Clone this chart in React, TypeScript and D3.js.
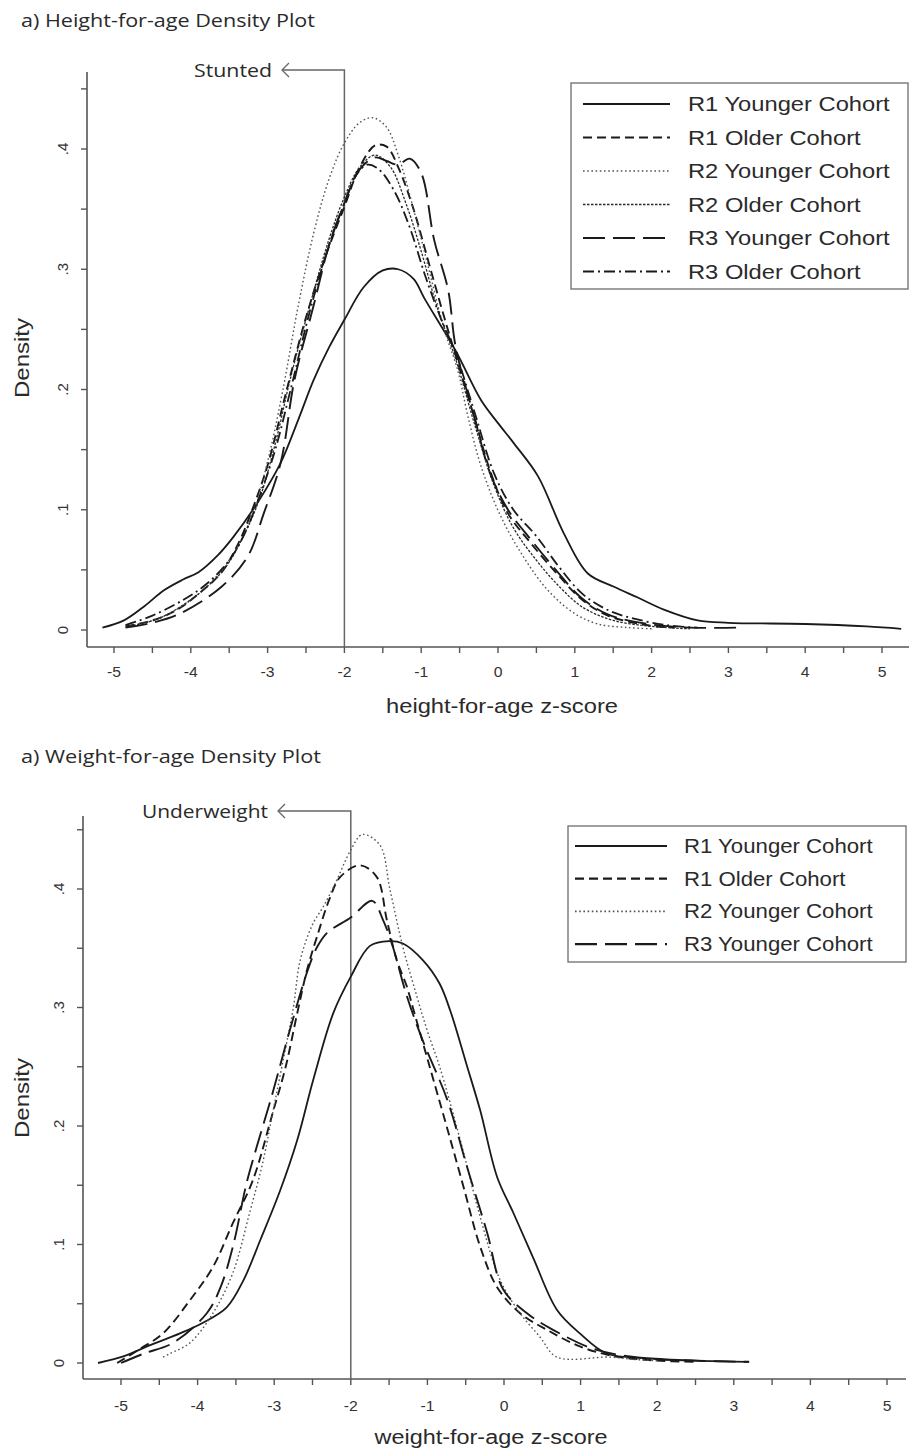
import React from "react";
import * as d3 from "d3";

type Pt = [number, number];

// z-score, density pairs
const hazR1Younger: Pt[] = [[-5.15,0.002],[-4.87,0.008],[-4.6,0.02],[-4.35,0.033],[-4.1,0.042],[-3.9,0.048],[-3.65,0.062],[-3.45,0.077],[-3.13,0.106],[-2.83,0.139],[-2.6,0.175],[-2.4,0.208],[-2.2,0.235],[-2.0,0.258],[-1.75,0.285],[-1.5,0.299],[-1.3,0.3],[-1.1,0.292],[-0.96,0.276],[-0.55,0.232],[-0.22,0.191],[0.0,0.172],[0.21,0.155],[0.52,0.128],[0.86,0.08],[1.17,0.047],[1.51,0.036],[1.82,0.027],[2.16,0.017],[2.6,0.008],[3.0,0.006],[4.0,0.005],[4.8,0.003],[5.25,0.001]];
const hazR1Older: Pt[] = [[-4.85,0.003],[-4.5,0.008],[-4.2,0.016],[-3.9,0.03],[-3.6,0.048],[-3.38,0.072],[-3.2,0.1],[-3.0,0.137],[-2.75,0.2],[-2.5,0.26],[-2.25,0.31],[-2.0,0.352],[-1.8,0.385],[-1.6,0.403],[-1.45,0.402],[-1.3,0.385],[-1.1,0.35],[-0.9,0.305],[-0.7,0.26],[-0.55,0.228],[-0.3,0.175],[-0.09,0.13],[0.13,0.097],[0.43,0.072],[0.78,0.046],[1.08,0.026],[1.43,0.012],[1.95,0.004],[2.3,0.002]];
const hazR2Younger: Pt[] = [[-4.85,0.003],[-4.4,0.01],[-3.9,0.03],[-3.5,0.058],[-3.2,0.095],[-3.0,0.14],[-2.8,0.2],[-2.6,0.27],[-2.4,0.33],[-2.2,0.375],[-2.0,0.405],[-1.8,0.422],[-1.63,0.426],[-1.45,0.418],[-1.3,0.395],[-1.1,0.35],[-0.9,0.3],[-0.7,0.25],[-0.52,0.215],[-0.4,0.18],[-0.22,0.136],[0.04,0.094],[0.34,0.06],[0.65,0.033],[0.99,0.014],[1.3,0.005],[1.7,0.002],[2.0,0.001]];
const hazR2Older: Pt[] = [[-4.8,0.003],[-4.4,0.01],[-3.9,0.03],[-3.55,0.052],[-3.3,0.08],[-3.1,0.11],[-2.9,0.155],[-2.7,0.21],[-2.45,0.27],[-2.2,0.325],[-2.0,0.36],[-1.8,0.385],[-1.6,0.395],[-1.4,0.385],[-1.2,0.355],[-1.0,0.315],[-0.8,0.27],[-0.55,0.225],[-0.3,0.17],[-0.05,0.12],[0.2,0.085],[0.5,0.058],[0.8,0.036],[1.1,0.019],[1.5,0.008],[2.0,0.003],[2.5,0.001]];
const hazR3Younger: Pt[] = [[-4.85,0.002],[-4.5,0.006],[-4.13,0.014],[-3.6,0.036],[-3.26,0.061],[-3.05,0.097],[-2.83,0.139],[-2.65,0.208],[-2.4,0.27],[-2.2,0.32],[-2.0,0.355],[-1.8,0.383],[-1.6,0.393],[-1.45,0.39],[-1.3,0.387],[-1.15,0.392],[-1.0,0.38],[-0.83,0.324],[-0.65,0.283],[-0.55,0.235],[-0.3,0.175],[-0.1,0.13],[0.13,0.1],[0.43,0.075],[0.78,0.048],[1.08,0.027],[1.43,0.013],[1.95,0.005],[2.5,0.002],[3.1,0.002]];
const hazR3Older: Pt[] = [[-4.85,0.004],[-4.5,0.012],[-4.1,0.025],[-3.8,0.038],[-3.5,0.058],[-3.3,0.08],[-3.1,0.112],[-2.9,0.15],[-2.7,0.2],[-2.45,0.265],[-2.2,0.32],[-2.0,0.355],[-1.85,0.378],[-1.7,0.387],[-1.55,0.383],[-1.35,0.365],[-1.15,0.335],[-0.95,0.295],[-0.75,0.26],[-0.55,0.23],[-0.3,0.18],[-0.05,0.13],[0.2,0.1],[0.5,0.078],[0.8,0.052],[1.1,0.03],[1.45,0.016],[1.8,0.009],[2.2,0.004],[2.6,0.002]];

const wazR1Younger: Pt[] = [[-5.3,0.0],[-4.95,0.006],[-4.66,0.014],[-4.23,0.025],[-3.93,0.034],[-3.62,0.047],[-3.4,0.07],[-3.18,0.104],[-2.92,0.146],[-2.7,0.188],[-2.49,0.239],[-2.23,0.295],[-2.0,0.326],[-1.75,0.352],[-1.5,0.356],[-1.32,0.354],[-1.06,0.34],[-0.84,0.32],[-0.7,0.297],[-0.48,0.25],[-0.31,0.213],[-0.09,0.157],[0.12,0.127],[0.38,0.089],[0.69,0.045],[0.99,0.025],[1.34,0.008],[1.87,0.004],[2.5,0.002],[3.2,0.001]];
const wazR1Older: Pt[] = [[-5.05,0.0],[-4.75,0.012],[-4.45,0.025],[-4.1,0.053],[-3.8,0.081],[-3.54,0.118],[-3.28,0.154],[-3.02,0.211],[-2.85,0.25],[-2.7,0.295],[-2.57,0.332],[-2.44,0.36],[-2.27,0.393],[-2.14,0.41],[-1.88,0.42],[-1.66,0.41],[-1.53,0.374],[-1.4,0.34],[-1.27,0.318],[-1.19,0.3],[-0.97,0.25],[-0.75,0.2],[-0.53,0.149],[-0.31,0.098],[-0.09,0.064],[0.21,0.042],[0.56,0.028],[0.99,0.014],[1.42,0.006],[2.0,0.002],[2.5,0.001]];
const wazR2Younger: Pt[] = [[-4.45,0.005],[-4.36,0.008],[-4.1,0.017],[-3.8,0.042],[-3.54,0.076],[-3.32,0.127],[-3.15,0.169],[-3.02,0.211],[-2.9,0.25],[-2.75,0.3],[-2.66,0.34],[-2.5,0.37],[-2.36,0.385],[-2.2,0.405],[-2.0,0.433],[-1.85,0.446],[-1.62,0.437],[-1.49,0.4],[-1.32,0.351],[-1.14,0.31],[-1.0,0.28],[-0.84,0.25],[-0.57,0.188],[-0.31,0.123],[-0.05,0.07],[0.21,0.042],[0.47,0.022],[0.69,0.005],[1.38,0.005],[1.7,0.003],[2.0,0.002]];
const wazR3Younger: Pt[] = [[-5.0,0.0],[-4.7,0.008],[-4.32,0.017],[-3.88,0.042],[-3.7,0.064],[-3.54,0.098],[-3.36,0.152],[-3.23,0.182],[-3.02,0.228],[-2.8,0.28],[-2.57,0.33],[-2.44,0.351],[-2.31,0.363],[-2.0,0.376],[-1.72,0.39],[-1.58,0.374],[-1.45,0.351],[-1.27,0.31],[-1.06,0.272],[-0.74,0.222],[-0.48,0.165],[-0.22,0.11],[-0.01,0.062],[0.3,0.042],[0.64,0.028],[1.21,0.011],[1.87,0.004],[2.5,0.002],[3.2,0.001]];

const hazLabels = ["R1 Younger Cohort", "R1 Older Cohort", "R2 Younger Cohort", "R2 Older Cohort", "R3 Younger Cohort", "R3 Older Cohort"];
const wazLabels = ["R1 Younger Cohort", "R1 Older Cohort", "R2 Younger Cohort", "R3 Younger Cohort"];

const xTicks = [-5, -4, -3, -2, -1, 0, 1, 2, 3, 4, 5];
const xMinorTicks = [-4.5, -3.5, -2.5, -1.5, -0.5, 0.5, 1.5, 2.5, 3.5, 4.5];
const yTicks = [0, 0.1, 0.2, 0.3, 0.4];
const yTickLabels = ["0", ".1", ".2", ".3", ".4"];
const yMinorTicks = [0.05, 0.15, 0.25, 0.35, 0.45];
const cutoff = -2;

const styles: Record<string, { dash: string; w: number; c: string }> = {
  "R1 Younger Cohort": { dash: "none", w: 1.8, c: "#1a1a1a" },
  "R1 Older Cohort": { dash: "9,5", w: 1.9, c: "#1a1a1a" },
  "R2 Younger Cohort": { dash: "1.6,2.6", w: 1.4, c: "#555" },
  "R2 Older Cohort": { dash: "2.5,1.5", w: 1.3, c: "#2a2a2a" },
  "R3 Younger Cohort": { dash: "22,8", w: 1.9, c: "#1a1a1a" },
  "R3 Older Cohort": { dash: "11,4,2,4", w: 1.8, c: "#1a1a1a" },
};

type Layout = {
  xRange: [number, number]; yRange: [number, number];
  axisX: number; axisY: number; axisTop: number; axisRight: number;
  title: string; titleY: number; titleLen: number;
  note: string; noteY: number; noteEnd: number; noteLen: number;
  xTitle: string; xTitleX: number; xTitleY: number; xTitleLen: number;
  tickLabelY: number; yLabelX: number; densityY: number;
  legend: { x: number; y: number; w: number; h: number; row0: number; gap: number; fs: number; sx: number; l0: number; l1: number; tx: number };
};

const topLayout: Layout = {
  xRange: [114, 882], yRange: [630, 149], axisX: 87, axisY: 647, axisTop: 72, axisRight: 909,
  title: "a) Height-for-age Density Plot", titleY: 27, titleLen: 294,
  note: "Stunted", noteY: 70, noteEnd: 272, noteLen: 78,
  xTitle: "height-for-age z-score", xTitleX: 502, xTitleY: 713, xTitleLen: 232,
  tickLabelY: 677, yLabelX: 62, densityY: 358,
  legend: { x: 571, y: 83, w: 337, h: 206, row0: 104, gap: 33.5, fs: 21, sx: 1.13, l0: 583, l1: 670, tx: 688 },
};

const bottomLayout: Layout = {
  xRange: [121, 887], yRange: [1363, 889], axisX: 83, axisY: 1379, axisTop: 816, axisRight: 906,
  title: "a) Weight-for-age Density Plot", titleY: 763, titleLen: 300,
  note: "Underweight", noteY: 811, noteEnd: 268, noteLen: 126,
  xTitle: "weight-for-age z-score", xTitleX: 491, xTitleY: 1444, xTitleLen: 233,
  tickLabelY: 1411, yLabelX: 58, densityY: 1098,
  legend: { x: 568, y: 826, w: 338, h: 136, row0: 846, gap: 32.7, fs: 20, sx: 1.11, l0: 575, l1: 667, tx: 684 },
};

const axisColor = "#555";
const font = "'Liberation Sans', Arial, sans-serif";

function Panel({ layout, series, labels }: { layout: Layout; series: Pt[][]; labels: string[] }) {
  const L = layout;
  const x = d3.scaleLinear().domain([-5, 5]).range(L.xRange);
  const y = d3.scaleLinear().domain([0, 0.4]).range(L.yRange);
  const line = d3.line<Pt>().x((d) => x(d[0])).y((d) => y(d[1])).curve(d3.curveCatmullRom.alpha(0.5));
  const refX = x(cutoff);
  const lg = L.legend;
  return (
    <g>
      <text x={21} y={L.titleY} fontFamily="'Open Sans', sans-serif" fontSize={18} fill="#2a2a2a"
        textLength={L.titleLen} lengthAdjust="spacingAndGlyphs">{L.title}</text>

      {/* axes */}
      <line x1={L.axisX} x2={L.axisX} y1={L.axisTop} y2={L.axisY} stroke={axisColor} strokeWidth={1.6} />
      <line x1={L.axisX} x2={L.axisRight} y1={L.axisY} y2={L.axisY} stroke={axisColor} strokeWidth={1.6} />
      {yTicks.concat(yMinorTicks).map((t) => (
        <line key={"yt" + t} x1={L.axisX - 6} x2={L.axisX} y1={y(t)} y2={y(t)} stroke={axisColor} strokeWidth={1.4} />
      ))}
      {yTicks.map((t, i) => (
        <text key={"yl" + t} transform={`translate(${L.yLabelX},${y(t)}) rotate(-90)`} textAnchor="middle"
          dominantBaseline="central" fontFamily={font} fontSize={15} fill="#333">{yTickLabels[i]}</text>
      ))}
      {xTicks.concat(xMinorTicks).map((t) => (
        <line key={"xt" + t} x1={x(t)} x2={x(t)} y1={L.axisY} y2={L.axisY + 6} stroke={axisColor} strokeWidth={1.4} />
      ))}
      {xTicks.map((t) => (
        <text key={"xl" + t} transform={`translate(${x(t)},${L.tickLabelY}) scale(1.05,1)`} textAnchor="middle"
          fontFamily={font} fontSize={15} fill="#333">{t < 0 ? "-" + Math.abs(t) : String(t)}</text>
      ))}
      <text x={L.xTitleX} y={L.xTitleY} textAnchor="middle" fontFamily={font} fontSize={20} fill="#2a2a2a"
        textLength={L.xTitleLen} lengthAdjust="spacingAndGlyphs">{L.xTitle}</text>
      <text transform={`translate(22,${L.densityY}) rotate(-90)`} textAnchor="middle" dominantBaseline="central"
        fontFamily={font} fontSize={20} fill="#2a2a2a" textLength={80} lengthAdjust="spacingAndGlyphs">Density</text>

      {/* cutoff line with arrow note */}
      <polyline points={`${refX},${L.axisY} ${refX},${L.noteY} ${L.noteEnd + 10},${L.noteY}`} fill="none"
        stroke="#666" strokeWidth={1.5} />
      <polyline points={`${L.noteEnd + 17},${L.noteY - 7} ${L.noteEnd + 10},${L.noteY} ${L.noteEnd + 17},${L.noteY + 7}`}
        fill="none" stroke="#666" strokeWidth={1.3} />
      <text x={L.noteEnd} y={L.noteY + 7} textAnchor="end" fontFamily="'Open Sans', sans-serif" fontSize={18}
        fill="#2a2a2a" textLength={L.noteLen} lengthAdjust="spacingAndGlyphs">{L.note}</text>

      {/* density curves */}
      {series.map((s, i) => {
        const st = styles[labels[i]];
        return <path key={labels[i]} d={line(s) || ""} fill="none" stroke={st.c} strokeWidth={st.w}
          strokeDasharray={st.dash} strokeLinejoin="round" />;
      })}

      {/* legend */}
      <rect x={lg.x} y={lg.y} width={lg.w} height={lg.h} fill="#fff" stroke="#777" strokeWidth={1.4} />
      {labels.map((lab, i) => {
        const st = styles[lab];
        const ry = lg.row0 + i * lg.gap;
        return (
          <g key={"lg" + lab}>
            <line x1={lg.l0} x2={lg.l1} y1={ry} y2={ry} stroke={st.c} strokeWidth={st.w + 0.3} strokeDasharray={st.dash} />
            <text transform={`translate(${lg.tx},${ry}) scale(${lg.sx},1)`} dominantBaseline="central"
              fontFamily={font} fontSize={lg.fs} fill="#2a2a2a">{lab}</text>
          </g>
        );
      })}
    </g>
  );
}

export default function App() {
  return (
    <svg width={909} height={1454} style={{ position: "absolute", left: 0, top: 0, background: "#fff" }}>
      <rect width={909} height={1454} fill="#fff" />
      <Panel layout={topLayout} labels={hazLabels}
        series={[hazR1Younger, hazR1Older, hazR2Younger, hazR2Older, hazR3Younger, hazR3Older]} />
      <Panel layout={bottomLayout} labels={wazLabels}
        series={[wazR1Younger, wazR1Older, wazR2Younger, wazR3Younger]} />
    </svg>
  );
}
